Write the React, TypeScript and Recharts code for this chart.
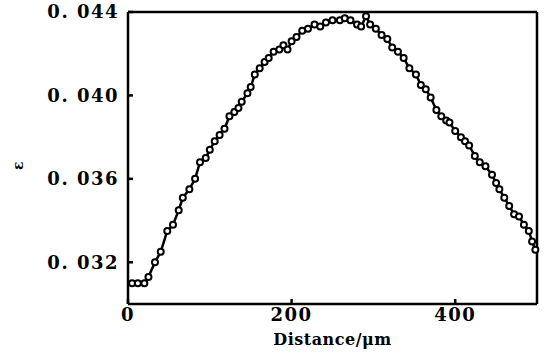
import { LineChart, Line, XAxis, YAxis, Label, ReferenceLine } from "recharts"

const distance = [
  5, 12, 20, 25, 33, 40, 48, 55, 62, 67, 75, 82, 88, 95, 100, 106, 112, 118, 124, 130,
  135, 139, 146, 150, 155, 161, 167, 172, 178, 185, 190, 195, 200, 206, 213, 220, 228, 235, 242, 250,
  259, 265, 272, 280, 285, 291, 296, 303, 310, 317, 323, 330, 337, 344, 352, 358, 364, 370, 377, 383,
  389, 393, 400, 407, 412, 417, 424, 430, 437, 445, 450, 454, 460, 466, 472, 478, 484, 490, 494, 498,
]
const strain = [
  0.031, 0.031, 0.031, 0.0313, 0.032, 0.0325, 0.0335, 0.0338, 0.0345, 0.0351, 0.0355, 0.036, 0.0368, 0.037, 0.0374, 0.0378, 0.0381, 0.0384, 0.039, 0.0392,
  0.0394, 0.0397, 0.0401, 0.0404, 0.041, 0.0413, 0.0416, 0.0418, 0.0421, 0.0422, 0.0424, 0.0422, 0.0426, 0.0428, 0.0431, 0.0432, 0.0434, 0.0433, 0.0435, 0.0436,
  0.0436, 0.0437, 0.0436, 0.0434, 0.0433, 0.0438, 0.0434, 0.0432, 0.0429, 0.0427, 0.0423, 0.0421, 0.0418, 0.0413, 0.041, 0.0405, 0.0403, 0.0399, 0.0393, 0.039,
  0.0388, 0.0387, 0.0383, 0.038, 0.0378, 0.0376, 0.0371, 0.0368, 0.0366, 0.0362, 0.0358, 0.0355, 0.0351, 0.0347, 0.0343, 0.0342, 0.0338, 0.0335, 0.033, 0.0326,
]
const xTicks = [0, 200, 400]
const yTicks = [0.032, 0.036, 0.04, 0.044]

const FONT = "'DejaVu Serif', serif"

const data = distance.map((d, i) => ({ d, e: strain[i] }))

export default function App() {
  const tickStyle = { fontFamily: FONT, fontWeight: "bold", fontSize: 18, fill: "#000", letterSpacing: 1.5 }
  return (
    <div style={{ position: "absolute", left: 0, top: 0, background: "#fff" }}>
      <LineChart width={547} height={354} data={data} margin={{ top: 12, right: 10, bottom: 0, left: 0 }}>
        <XAxis
          dataKey="d"
          type="number"
          domain={[0, 500]}
          ticks={xTicks}
          tick={tickStyle}
          tickSize={-5}
          tickMargin={9}
          stroke="#000"
          strokeWidth={2.5}
          height={50}
        >
          <Label
            value="Distance/μm"
            position="insideBottom"
            offset={9}
            style={{ fontFamily: FONT, fontWeight: "bold", fontSize: 16, fill: "#000", letterSpacing: 0.5 }}
          />
        </XAxis>
        <YAxis
          type="number"
          domain={[0.03, 0.044]}
          ticks={yTicks}
          tickFormatter={(v: number) => "0. " + v.toFixed(3).slice(2)}
          tick={tickStyle}
          tickSize={-5}
          tickMargin={14}
          stroke="#000"
          strokeWidth={2.5}
          width={128}
        >
          <Label
            value="ε"
            angle={-90}
            position="insideLeft"
            offset={18}
            dy={12}
            style={{ fontFamily: FONT, fontWeight: "bold", fontSize: 14, fill: "#000" }}
          />
        </YAxis>
        <ReferenceLine y={0.044} stroke="#000" strokeWidth={2.5} />
        <ReferenceLine x={500} stroke="#000" strokeWidth={2.5} />
        <Line
          dataKey="e"
          type="linear"
          stroke="#000"
          strokeWidth={2.5}
          dot={{ r: 3, stroke: "#000", strokeWidth: 2, fill: "#fff" }}
          isAnimationActive={false}
        />
      </LineChart>
    </div>
  )
}
